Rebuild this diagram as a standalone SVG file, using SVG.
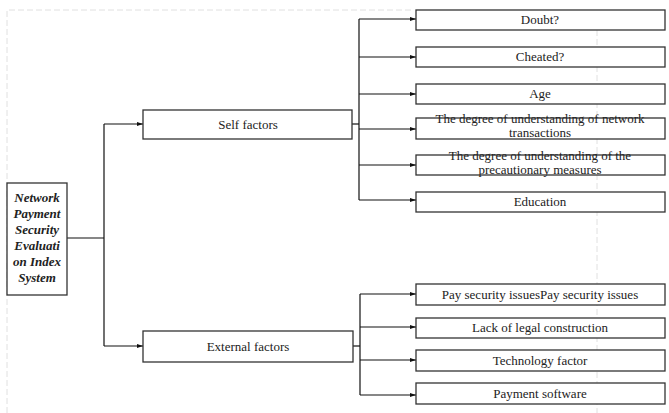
<svg xmlns="http://www.w3.org/2000/svg" width="669" height="413" viewBox="0 0 669 413">
<style>
.box{fill:#fff;stroke:#333;stroke-width:1.3}
text{font-family:'Liberation Serif','DejaVu Serif',serif;font-size:13px;fill:#222;text-anchor:middle}
.r{font-style:italic;font-weight:bold}
.c{fill:none;stroke:#111;stroke-width:1.2}
.d{fill:none;stroke:#e0e0e0;stroke-width:1;stroke-dasharray:6 3}
</style>
<defs>
<marker id="a" viewBox="0 0 10 10" refX="10" refY="5" markerWidth="6" markerHeight="6" markerUnits="userSpaceOnUse" orient="auto">
<path d="M0,1.5 L10,5 L0,8.5 z" fill="#111"/>
</marker>
</defs>
<g id="frame">
<path class="d" d="M7,413 V10 H412"/>
<path class="d" d="M597,30 V413"/>
</g>
<g id="connectors">
<path class="c" d="M67,238 H104"/>
<path class="c" d="M104,124 V346"/>
<path class="c" d="M104,124 H143" marker-end="url(#a)"/>
<path class="c" d="M104,346 H143" marker-end="url(#a)"/>
<path class="c" d="M352,124 H359"/>
<path class="c" d="M359,19 V200"/>
<path class="c" d="M359,19 H416" marker-end="url(#a)"/>
<path class="c" d="M359,57 H416" marker-end="url(#a)"/>
<path class="c" d="M359,94 H416" marker-end="url(#a)"/>
<path class="c" d="M359,129 H416" marker-end="url(#a)"/>
<path class="c" d="M359,165 H416" marker-end="url(#a)"/>
<path class="c" d="M359,200 H416" marker-end="url(#a)"/>
<path class="c" d="M353,346 H360"/>
<path class="c" d="M360,294 V395"/>
<path class="c" d="M360,294 H416" marker-end="url(#a)"/>
<path class="c" d="M360,327 H416" marker-end="url(#a)"/>
<path class="c" d="M360,360 H416" marker-end="url(#a)"/>
<path class="c" d="M360,395 H416" marker-end="url(#a)"/>
</g>
<g id="root">
<rect class="box" x="7" y="183" width="60" height="112"/>
<text class="r" x="37" y="202">Network</text>
<text class="r" x="37" y="218">Payment</text>
<text class="r" x="37" y="234">Security</text>
<text class="r" x="37" y="250">Evaluati</text>
<text class="r" x="37" y="266">on Index</text>
<text class="r" x="37" y="282">System</text>
</g>
<g id="self">
<rect class="box" x="143" y="110" width="209" height="29"/>
<text x="248" y="129">Self factors</text>
</g>
<g id="external">
<rect class="box" x="143" y="331" width="210" height="31"/>
<text x="248" y="351">External factors</text>
</g>
<g id="doubt">
<rect class="box" x="416" y="10" width="249" height="20"/>
<text x="540" y="24">Doubt?</text>
</g>
<g id="cheated">
<rect class="box" x="416" y="47" width="249" height="20"/>
<text x="540" y="61">Cheated?</text>
</g>
<g id="age">
<rect class="box" x="416" y="84" width="249" height="20"/>
<text x="540" y="98">Age</text>
</g>
<g id="network-transactions">
<rect class="box" x="416" y="118" width="249" height="21"/>
<text x="540" y="123">The degree of understanding of network</text>
<text x="540" y="137">transactions</text>
</g>
<g id="precautionary">
<rect class="box" x="416" y="155" width="249" height="20"/>
<text x="540" y="160">The degree of understanding of the</text>
<text x="540" y="174">precautionary measures</text>
</g>
<g id="education">
<rect class="box" x="416" y="192" width="249" height="20"/>
<text x="540" y="206">Education</text>
</g>
<g id="pay-security">
<rect class="box" x="416" y="284" width="249" height="21"/>
<text x="540" y="299">Pay security issuesPay security issues</text>
</g>
<g id="legal">
<rect class="box" x="416" y="318" width="249" height="20"/>
<text x="540" y="332">Lack of legal construction</text>
</g>
<g id="technology">
<rect class="box" x="416" y="350" width="249" height="21"/>
<text x="540" y="365">Technology factor</text>
</g>
<g id="payment-software">
<rect class="box" x="416" y="383" width="249" height="21"/>
<text x="540" y="398">Payment software</text>
</g>
</svg>
